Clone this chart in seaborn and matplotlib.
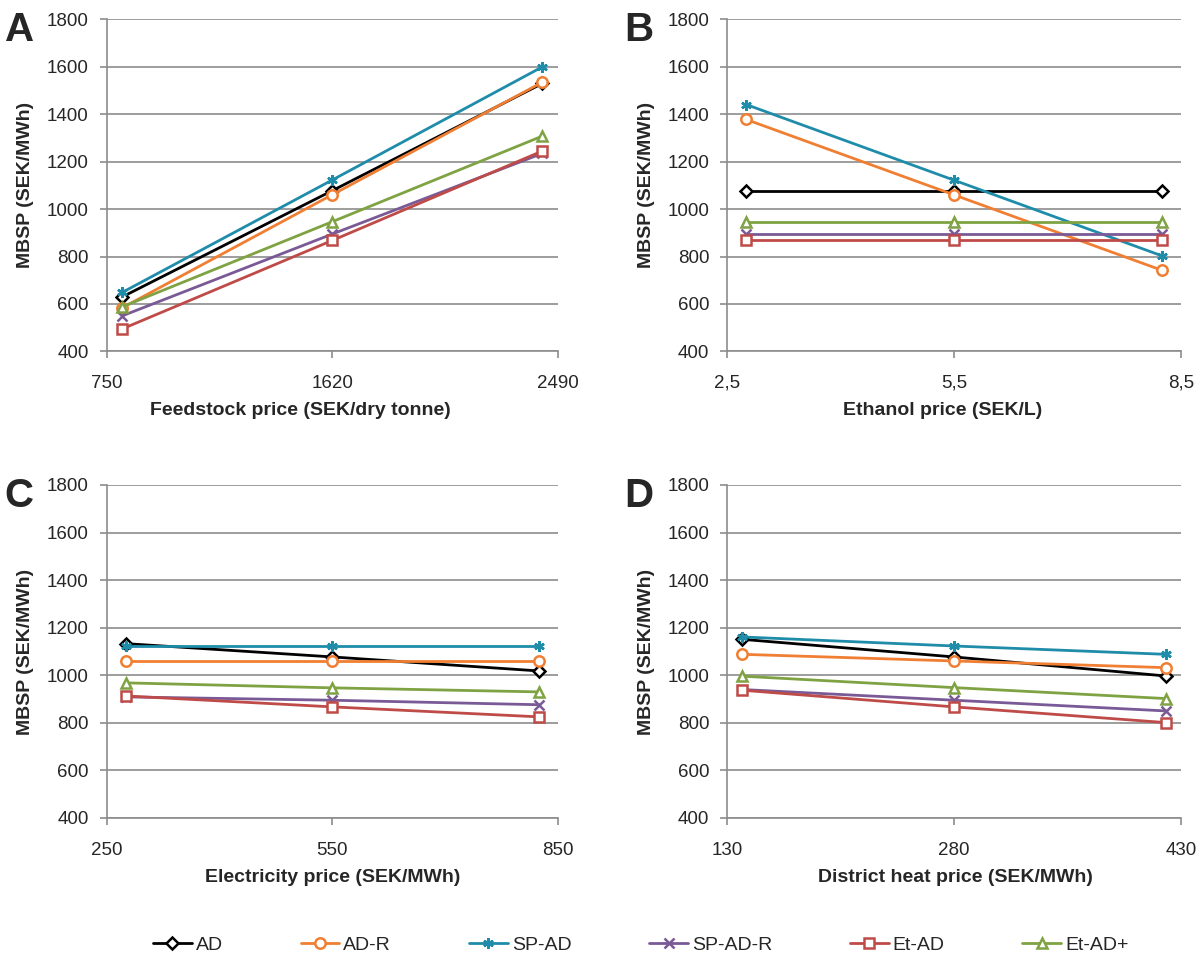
import numpy as np
import pandas as pd
import matplotlib
matplotlib.use('Agg')
import matplotlib.pyplot as plt
import seaborn as sns

# Data (MBSP, SEK/MWh) at low / base / high input price
series = ['AD', 'AD-R', 'SP-AD', 'SP-AD-R', 'Et-AD', 'Et-AD+']

feed_x = [810, 1620, 2430]
feed_y = {
    'AD': [630, 1078, 1530],
    'AD-R': [584, 1061, 1535],
    'SP-AD': [649, 1123, 1600],
    'SP-AD-R': [550, 895, 1235],
    'Et-AD': [495, 868, 1245],
    'Et-AD+': [588, 947, 1308],
}

eth_x = [2.75, 5.5, 8.25]
eth_y = {
    'AD': [1077, 1077, 1077],
    'AD-R': [1378, 1060, 742],
    'SP-AD': [1441, 1122, 803],
    'SP-AD-R': [895, 895, 895],
    'Et-AD': [868, 868, 868],
    'Et-AD+': [947, 947, 947],
}

el_x = [275, 550, 825]
el_y = {
    'AD': [1133, 1077, 1018],
    'AD-R': [1060, 1060, 1060],
    'SP-AD': [1123, 1123, 1123],
    'SP-AD-R': [909, 895, 876],
    'Et-AD': [913, 867, 825],
    'Et-AD+': [968, 947, 930],
}

dh_x = [140, 280, 420]
dh_y = {
    'AD': [1151, 1077, 997],
    'AD-R': [1088, 1060, 1032],
    'SP-AD': [1161, 1123, 1088],
    'SP-AD-R': [940, 895, 850],
    'Et-AD': [937, 867, 801],
    'Et-AD+': [996, 948, 902],
}

colors = {'AD': '#000000', 'AD-R': '#F07F33', 'SP-AD': '#1F8CAA',
          'SP-AD-R': '#7A5A96', 'Et-AD': '#BE4B48', 'Et-AD+': '#7FA343'}
markers = {'AD': 'D', 'AD-R': 'o', 'SP-AD': (6, 2, 0), 'SP-AD-R': 'x',
           'Et-AD': 's', 'Et-AD+': '^'}

panels = [
    ('A', feed_x, feed_y, 'Feedstock price (SEK/dry tonne)', (750, 2490), [750, 1620, 2490], ['750', '1620', '2490']),
    ('B', eth_x, eth_y, 'Ethanol price (SEK/L)', (2.5, 8.5), [2.5, 5.5, 8.5], ['2,5', '5,5', '8,5']),
    ('C', el_x, el_y, 'Electricity price (SEK/MWh)', (250, 850), [250, 550, 850], ['250', '550', '850']),
    ('D', dh_x, dh_y, 'District heat price (SEK/MWh)', (130, 430), [130, 280, 430], ['130', '280', '430']),
]

sns.set_style('white')
plt.rcParams['font.family'] = ['Liberation Sans', 'DejaVu Sans']

fig = plt.figure(figsize=(12, 9.68), dpi=100)
positions = [
    [0.089, 0.637, 0.376, 0.343],
    [0.606, 0.637, 0.378, 0.343],
    [0.089, 0.155, 0.376, 0.344],
    [0.606, 0.155, 0.378, 0.344],
]
xlabel_pos = [0.43, 0.475, 0.5, 0.503]

grid_col = '#8C8C8C'
for (letter, xs, ys, xlabel, xlim, xticks, xticklabels), pos, xlp in zip(panels, positions, xlabel_pos):
    ax = fig.add_axes(pos)
    for s in series:
        df = pd.DataFrame({'x': xs, 'y': ys[s]})
        mfc = colors[s] if s in ('SP-AD', 'SP-AD-R') else 'white'
        sns.lineplot(data=df, x='x', y='y', ax=ax, color=colors[s], linewidth=2.0,
                     marker=markers[s], markersize=7.5 if s != 'AD' else 6,
                     markerfacecolor=mfc, markeredgecolor=colors[s],
                     markeredgewidth=1.8, label=s, legend=False, zorder=3)
    ax.set_xlim(*xlim)
    ax.set_ylim(400, 1800)
    ax.set_xticks(xticks)
    ax.set_xticklabels(xticklabels)
    ax.set_yticks(np.arange(400, 1801, 200))
    ax.yaxis.grid(True, color=grid_col, linewidth=1.2)
    ax.xaxis.grid(False)
    for sp in ['top', 'right']:
        ax.spines[sp].set_visible(False)
    for sp in ['left', 'bottom']:
        ax.spines[sp].set_color(grid_col)
        ax.spines[sp].set_linewidth(1.2)
    ax.tick_params(axis='y', which='major', labelsize=13.5, length=5,
                   color=grid_col, width=1.2, direction='out', left=True, pad=8)
    ax.tick_params(axis='x', which='major', labelsize=13.5, length=5,
                   color=grid_col, width=1.2, direction='out', bottom=True, pad=12)
    ax.set_xlabel(xlabel, fontsize=14, fontweight='bold', labelpad=6)
    ax.xaxis.set_label_coords(xlp, -0.152)
    ax.set_ylabel('MBSP (SEK/MWh)', fontsize=14, fontweight='bold', labelpad=9)
    ax.text(-0.226, 0.967, letter, transform=ax.transAxes, fontsize=29,
            fontweight='bold', va='center', ha='left')

handles, labels = ax.get_legend_handles_labels()
fig.legend(handles, labels, loc='center', bbox_to_anchor=(0.534, 0.024),
           ncol=6, frameon=False, fontsize=14, columnspacing=4.0,
           handlelength=2.0, handletextpad=0.2)

plt.savefig('out.png', dpi=100)
